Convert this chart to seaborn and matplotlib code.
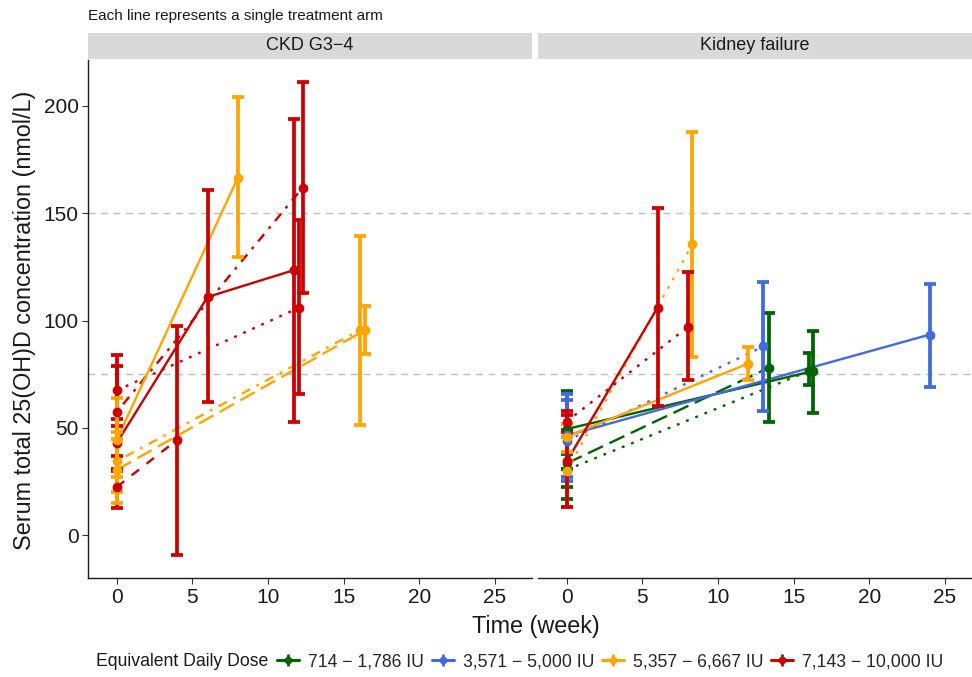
import matplotlib
matplotlib.use("Agg")
import numpy as np
import pandas as pd
import matplotlib.pyplot as plt
import seaborn as sns
from matplotlib.lines import Line2D
from matplotlib.legend_handler import HandlerTuple

# ---------------- data ----------------
panels = ["CKD G3\u22124", "Kidney failure"]
dose_labels = ["714 \u2212 1,786 IU", "3,571 \u2212 5,000 IU",
               "5,357 \u2212 6,667 IU", "7,143 \u2212 10,000 IU"]
dose_colors = ["#006400", "#4169E1", "#FFA500", "#CD0000"]

# each arm: (weeks, mean, lower, upper)
ckd_red_solid = ([0, 6, 11.7], [43, 111, 123.5], [30, 62, 53], [54, 161, 194])
ckd_red_dotted = ([0, 12.05], [67.5, 106], [51, 66], [84, 147])
ckd_red_dotdash = ([0, 12.3], [57.5, 162], [37, 113], [79, 211])
ckd_red_dashed = ([0, 4], [22.5, 44.5], [12.5, -9], [31, 97.5])
ckd_orange_solid = ([0, 8], [44.5, 166.5], [27, 129.5], [64, 204])
ckd_orange_dotdash = ([0, 16.05], [34.5, 95.5], [20, 51.5], [48, 139.5])
ckd_orange_longdash = ([0, 16.4], [30.5, 95.5], [15, 84.5], [45, 107])

kf_green_solid = ([0, 16.3], [49.5, 76.5], [31, 57], [67, 95])
kf_green_longdash = ([0, 13.35], [33.5, 78], [17, 53], [49, 103.5])
kf_green_dotted = ([0, 16.0], [30.5, 76.5], [22.5, 70], [38, 85])
kf_blue_solid = ([0, 24], [46.5, 93.5], [27, 69], [66, 117])
kf_blue_dotted = ([0, 13.0], [44, 88], [25.5, 58], [63, 118])
kf_orange_solid = ([0, 12], [46, 80], [39, 72.5], [52, 87.5])
kf_orange_dotted = ([0, 8.3], [30, 135.5], [13, 83], [46, 188])
kf_red_solid = ([0, 6], [34.5, 106], [13, 60], [56, 152.5])
kf_red_dotted = ([0, 8], [53, 97], [48, 72.5], [58, 122.5])

# arm registry: (arm id, panel index, dose index, linetype, data)
arms = [
    ("ckd_r1", 0, 3, "solid", ckd_red_solid),
    ("ckd_r2", 0, 3, "dotted", ckd_red_dotted),
    ("ckd_r3", 0, 3, "dotdash", ckd_red_dotdash),
    ("ckd_r4", 0, 3, "dashed", ckd_red_dashed),
    ("ckd_o1", 0, 2, "solid", ckd_orange_solid),
    ("ckd_o2", 0, 2, "dotdash", ckd_orange_dotdash),
    ("ckd_o3", 0, 2, "longdash", ckd_orange_longdash),
    ("kf_g1", 1, 0, "solid", kf_green_solid),
    ("kf_g2", 1, 0, "longdash", kf_green_longdash),
    ("kf_g3", 1, 0, "dotted", kf_green_dotted),
    ("kf_b1", 1, 1, "solid", kf_blue_solid),
    ("kf_b2", 1, 1, "dotted", kf_blue_dotted),
    ("kf_o1", 1, 2, "solid", kf_orange_solid),
    ("kf_o2", 1, 2, "dotted", kf_orange_dotted),
    ("kf_r1", 1, 3, "solid", kf_red_solid),
    ("kf_r2", 1, 3, "dotted", kf_red_dotted),
]

rows = []
for arm_id, p, d, lt, (wk, mn, lo, hi) in arms:
    for w, m, l, h in zip(wk, mn, lo, hi):
        rows.append(dict(arm=arm_id, panel=panels[p], dose=dose_labels[d],
                         linetype=lt, week=w, mean=m, lower=l, upper=h))
df = pd.DataFrame(rows)

# ---------------- styling ----------------
sns.set_theme(style="white")
plt.rcParams["font.family"] = ["Liberation Sans", "DejaVu Sans"]

dash_map = {"solid": "", "dashed": (4, 4), "dotted": (1.2, 3),
            "dotdash": (1.2, 3, 4, 3), "longdash": (7, 3)}
palette = dict(zip(dose_labels, dose_colors))

W, H = 972, 677
fig = plt.figure(figsize=(W / 100, H / 100), dpi=100)

def fx(px):
    return px / W

def fy(px):
    return 1 - px / H

panel_top, panel_bot = 60, 578
pw = 443.4
lefts = [88.3, 538.3]
visible_right = [531.7, 972]
xlim = (-1.88, 27.43)
ylim = (-19.9, 221.4)

for i, left in enumerate(lefts):
    ax = fig.add_axes([fx(left), fy(panel_bot), pw / W, (panel_bot - panel_top) / H])
    sub = df[df["panel"] == panels[i]]
    dashes = {a: dash_map[t] for a, t in zip(sub["arm"], sub["linetype"])}
    for y0 in (75, 150):
        ax.axhline(y0, color="#BDBDBD", lw=1.0, ls=(0, (5, 4)), zorder=0)
    sns.lineplot(data=sub, x="week", y="mean", hue="dose", style="arm",
                 palette=palette, dashes=dashes, estimator=None, sort=False,
                 lw=1.7, legend=False, ax=ax, zorder=3)
    for arm_id, g in sub.groupby("arm", sort=False):
        c = palette[g["dose"].iloc[0]]
        ax.errorbar(g["week"], g["mean"],
                    yerr=[g["mean"] - g["lower"], g["upper"] - g["mean"]],
                    fmt="o", color=c, ms=6, elinewidth=2.7, capsize=4.2,
                    capthick=2.7, zorder=4)
    ax.set_xlim(*xlim)
    ax.set_ylim(*ylim)
    ax.set_xticks([0, 5, 10, 15, 20, 25])
    ax.set_yticks([0, 50, 100, 150, 200])
    ax.set_xlabel("")
    ax.set_ylabel("")
    ax.tick_params(axis="both", labelsize=15, length=4, width=0.8,
                   color="#333333", labelcolor="#1A1A1A", pad=3,
                   bottom=True, left=(i == 0))
    for s in ("top", "right"):
        ax.spines[s].set_visible(False)
    ax.spines["bottom"].set_color("#1A1A1A")
    ax.spines["bottom"].set_linewidth(1.0)
    if i == 0:
        ax.spines["left"].set_color("#1A1A1A")
        ax.spines["left"].set_linewidth(1.0)
    else:
        ax.spines["left"].set_visible(False)
        ax.set_yticklabels([])

    # facet strip
    sax = fig.add_axes([fx(left), fy(59), pw / W, 26 / H])
    sax.set_facecolor("#D9D9D9")
    sax.set_xticks([])
    sax.set_yticks([])
    for s in sax.spines.values():
        s.set_visible(False)
    fig.text(fx((left + visible_right[i]) / 2), fy(46), panels[i],
             ha="center", va="center", fontsize=13, color="#1A1A1A")

fig.text(fx(88), fy(16), "Each line represents a single treatment arm",
         fontsize=11, color="#1A1A1A", va="center", ha="left")
fig.text(fx(25), fy(320), "Serum total 25(OH)D concentration (nmol/L)",
         rotation=90, fontsize=16.8, color="#1A1A1A", va="center", ha="center")
fig.text(fx(536), fy(627), "Time (week)", fontsize=16.8, color="#1A1A1A",
         va="center", ha="center")

# legend
fig.text(fx(96), fy(662), "Equivalent Daily Dose", fontsize=12.7,
         color="#1A1A1A", va="center", ha="left")
handles = []
for c in dose_colors:
    h1 = Line2D([], [], color=c, lw=2.2, marker="o", ms=4.5)
    h2 = Line2D([], [], color=c, lw=0, marker="|", ms=8, mew=2.0)
    handles.append((h1, h2))
fig.legend(handles, dose_labels, handler_map={tuple: HandlerTuple(ndivide=1)},
           loc="center left", bbox_to_anchor=(fx(277), fy(662)), ncol=4,
           frameon=False, fontsize=12.7, handlelength=1.25, handletextpad=0.5,
           columnspacing=0.45, borderpad=0, borderaxespad=0)

fig.savefig("out.png", dpi=100)
